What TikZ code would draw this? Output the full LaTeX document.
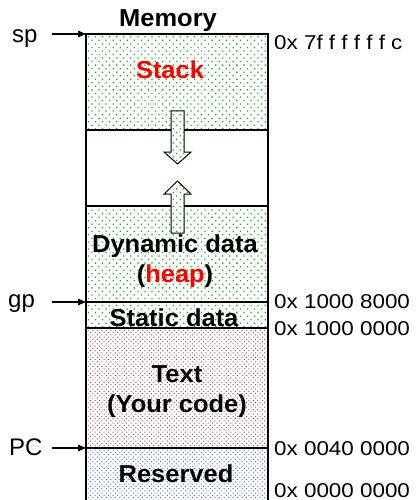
\documentclass[tikz,border=0pt]{standalone}
\usepackage{fontspec}
\setmainfont{Liberation Sans}
\usetikzlibrary{patterns.meta,arrows.meta}
\definecolor{dotgreen}{RGB}{30,170,30}
\definecolor{dotred}{RGB}{160,70,105}
\definecolor{dotblue}{RGB}{70,110,215}
\definecolor{labred}{RGB}{255,0,0}
\tikzset{
  region/.style={draw=black, line width=1.3pt, minimum width=182pt, inner sep=0pt, outer sep=0pt},
  greenfill/.style={pattern={Dots[distance=5pt,radius=0.9pt,angle=45]}, pattern color=dotgreen},
  redfill/.style={pattern={Dots[distance=3.2pt,radius=0.7pt,angle=45]}, pattern color=dotred},
  bluefill/.style={pattern={Dots[distance=3.2pt,radius=0.7pt,angle=45]}, pattern color=dotblue},
  boldlab/.style={font=\fontsize{24.5}{28}\selectfont\bfseries, inner sep=0pt, anchor=base},
  ptrlab/.style={font=\fontsize{24}{28}\selectfont, inner sep=0pt, anchor=base west},
  addr/.style={font=\fontsize{20}{23}\selectfont, inner sep=0pt, anchor=base west},
  ptr/.style={line width=1.1pt, -{Triangle[length=8pt,width=6.5pt]}},
  blockarrow/.style={draw=black, line width=1pt, fill=white}
}
\newcommand{\wide}[1]{\scalebox{1.12}[1]{#1}}
\newcommand{\bwide}[1]{\scalebox{1.04}[1]{#1}}
\begin{document}
\begin{tikzpicture}[x=1pt,y=-1pt]
\useasboundingbox (0,0) rectangle (415,500);
\clip (0,0) rectangle (415,500);
% regions
\node[region, greenfill, minimum height=96pt] (stack) at (177,82) {};
\node[region, minimum height=76pt] (free) at (177,168) {};
\node[region, greenfill, minimum height=96pt] (heap) at (177,254) {};
\node[region, greenfill, minimum height=26pt] (static) at (177,315) {};
\node[region, redfill, minimum height=120pt] (text) at (177,388) {};
\node[region, bluefill, minimum height=60pt] (reserved) at (177,478) {};
% block arrows
\path[blockarrow] (171,111) -- (184,111) -- (184,152) -- (191,152) -- (177.5,164) -- (164,152) -- (171,152) -- cycle;
\path[greenfill] (171,111) -- (184,111) -- (184,152) -- (191,152) -- (177.5,164) -- (164,152) -- (171,152) -- cycle;
\path[blockarrow] (177.5,181) -- (191,194) -- (184,194) -- (184,233) -- (171,233) -- (171,194) -- (164,194) -- cycle;
\path[greenfill] (177.5,181) -- (191,194) -- (184,194) -- (184,233) -- (171,233) -- (171,194) -- (164,194) -- cycle;
% labels
\node[boldlab] (memory) at (168,27) {\bwide{Memory}};
\node[boldlab, text=labred] (stacklab) at (170,79) {\bwide{Stack}};
\node[boldlab] (dyn1) at (175,252) {\bwide{Dynamic data}};
\node[boldlab] (dyn2) at (175,282) {\bwide{(\textcolor{labred}{heap})}};
\node[boldlab] (staticlab) at (174,326) {\bwide{Static data}};
\node[boldlab] (text1) at (177,382) {\bwide{Text}};
\node[boldlab] (text2) at (177,412) {\bwide{(Your code)}};
\node[boldlab] (reslab) at (176,482) {\bwide{Reserved}};
% addresses
\node[addr] (a1) at (274,50) {\wide{0x 7f f f f f f c}};
\node[addr] (a2) at (274,308) {\wide{0x 1000 8000}};
\node[addr] (a3) at (274,335) {\wide{0x 1000 0000}};
\node[addr] (a4) at (274,455) {\wide{0x 0040 0000}};
\node[addr] (a5) at (274,497) {\wide{0x 0000 0000}};
% pointers
\node[ptrlab] (sp) at (12,43) {sp};
\node[ptrlab] (gp) at (8,307) {gp};
\node[ptrlab] (pc) at (9,455) {PC};
\coordinate (sptail) at (52,34);
\coordinate (gptail) at (52,302);
\coordinate (pctail) at (52,448);
\draw[ptr] (sptail) -- (stack.north west);
\draw[ptr] (gptail) -- (static.north west);
\draw[ptr] (pctail) -- (reserved.north west);
\end{tikzpicture}
\end{document}
